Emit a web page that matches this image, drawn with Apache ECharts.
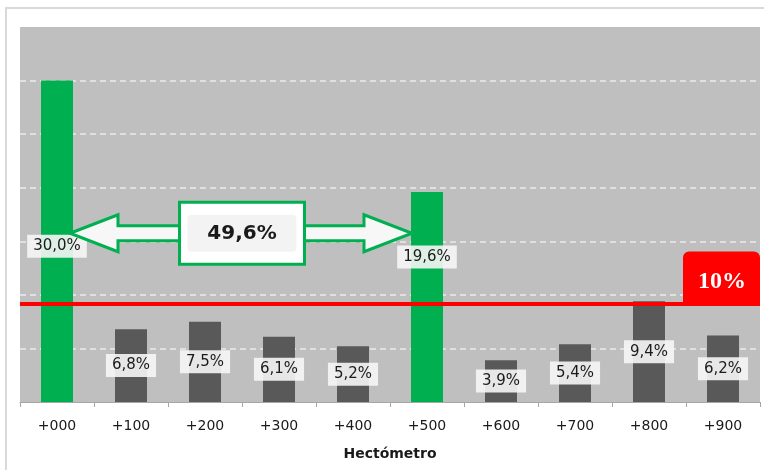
<!DOCTYPE html>
<html><head><meta charset="utf-8">
<script src="https://cdn.jsdelivr.net/npm/echarts@6/dist/echarts.min.js"></script>
<style>html,body{margin:0;padding:0;background:#fff}#c{width:764px;height:470px}</style>
</head><body><div id="c"></div>
<script>
const categories = ['+000','+100','+200','+300','+400','+500','+600','+700','+800','+900'];
const values = [30.0, 6.8, 7.5, 6.1, 5.2, 19.6, 3.9, 5.4, 9.4, 6.2];
const highlighted = [true, false, false, false, false, true, false, false, false, false];
const gridValues = [5, 10, 15, 20, 25, 30];
const thresholdValue = 9.2;
const thresholdLabel = '10%';
const spanLabel = '49,6%';
const spanFrom = 0, spanTo = 5, spanLevel = 15.75;
const axisName = 'Hectómetro';

const GREEN = '#00b050', GRAY = '#595959', RED = '#ff0000';
const BW = 32;
const fmt = v => v.toFixed(1).replace('.', ',') + '%';

const chart = echarts.init(document.getElementById('c'), null, {renderer: 'canvas'});
const barData = values.map((v, i) => {
  const d = {value: v, itemStyle: {color: highlighted[i] ? GREEN : GRAY}};
  if (i === 0) d.label = {offset: [0, 5]};
  if (i === 5) d.label = {offset: [0, -40]};
  return d;
});

chart.setOption({
  animation: false,
  grid: {left: 20, right: 4, top: 27, bottom: 68, show: true, backgroundColor: '#bfbfbf', borderWidth: 0},
  xAxis: {
    type: 'category', data: categories,
    axisLine: {lineStyle: {color: '#a6a6a6', width: 1}},
    axisTick: {show: true, length: 5, lineStyle: {color: '#a6a6a6'}},
    axisLabel: {margin: 17, fontSize: 14, color: '#1a1a1a', fontFamily: 'DejaVu Sans'},
    name: axisName, nameLocation: 'middle', nameGap: 45,
    nameTextStyle: {fontSize: 14, fontWeight: 'bold', color: '#1a1a1a', fontFamily: 'DejaVu Sans'}
  },
  yAxis: {type: 'value', min: 0, max: 35, show: false, splitLine: {show: false}},
  series: [
    {
      type: 'bar', data: barData, barWidth: BW, z: 2,
      label: {
        show: true, position: 'inside', formatter: p => fmt(p.value),
        fontSize: 15, color: '#1a1a1a', fontFamily: 'DejaVu Sans',
        backgroundColor: 'rgba(246,246,246,0.9)', padding: [4, 6]
      },
      markLine: {
        z: 1, silent: true, symbol: 'none', label: {show: false},
        lineStyle: {color: '#ececec', type: [6, 4], width: 1.5},
        data: gridValues.map(v => ({yAxis: v}))
      }
    },
    {
      type: 'line', data: [], z: 5,
      markLine: {
        z: 5, silent: true, symbol: 'none', label: {show: false},
        lineStyle: {color: RED, type: 'solid', width: 4},
        data: [{yAxis: thresholdValue}]
      }
    }
  ]
});

const px = (c, v) => chart.convertToPixel({gridIndex: 0}, [c, v]);
const grid = chart.getModel().getComponent('grid', 0).coordinateSystem.getRect();
const yLine = px(0, thresholdValue)[1];
const c0 = px(spanFrom, spanLevel)[0], c5 = px(spanTo, spanLevel)[0];
const yc = px(spanFrom, spanLevel)[1];
const xl = c0 + BW / 2 - 3, xr = c5 - BW / 2 + 1;
const H = 48, HH = 18.5, SH = 7.5;
const boxCx = (px(2, 0)[0] + px(3, 0)[0]) / 2;
const gRight = grid.x + grid.width;

chart.setOption({
  graphic: [
    {type: 'rect', z: -10, silent: true, shape: {x: 6, y: 8, width: 900, height: 900},
     style: {fill: 'none', stroke: '#d9d9d9', lineWidth: 2}},
    {type: 'polygon', z: 10, shape: {points: [
      [xl, yc], [xl + H, yc - HH], [xl + H, yc - SH], [xr - H, yc - SH], [xr - H, yc - HH],
      [xr, yc], [xr - H, yc + HH], [xr - H, yc + SH], [xl + H, yc + SH], [xl + H, yc + HH]]},
     style: {fill: '#f7f7f7', stroke: GREEN, lineWidth: 3, lineJoin: 'miter'}},
    {type: 'rect', z: 11, shape: {x: boxCx - 62.5, y: yc - 31, width: 125, height: 62},
     style: {fill: '#ffffff', stroke: GREEN, lineWidth: 3}},
    {type: 'rect', z: 12, shape: {x: boxCx - 54.5, y: yc - 18.5, width: 109, height: 37, r: 4},
     style: {fill: '#f3f3f3'}},
    {type: 'text', z: 13, x: boxCx, y: yc + 1,
     style: {text: spanLabel, fill: '#1a1a1a', font: 'bold 20px "DejaVu Sans"', align: 'center', verticalAlign: 'middle'}},
    {type: 'rect', z: 14, shape: {x: gRight - 77, y: yLine - 52, width: 77, height: 53, r: [6, 6, 0, 0]},
     style: {fill: RED}},
    {type: 'text', z: 15, x: gRight - 38, y: yLine - 22,
     style: {text: thresholdLabel, fill: '#ffffff', font: 'bold 24px "Liberation Serif"', align: 'center', verticalAlign: 'middle'}}
  ]
});
</script></body></html>
